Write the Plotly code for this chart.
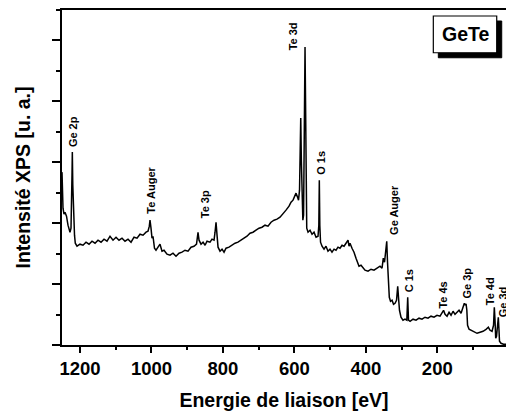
import plotly.graph_objects as go

# Binding energy (eV) and XPS intensity (arbitrary units)
energy = [
    1250.4, 1249.0, 1247.6, 1244.8, 1242.0, 1237.8, 1233.6, 1228.0, 1225.2, 1222.4,
    1221.5, 1220.2, 1218.8, 1217.4, 1215.4, 1213.2, 1208.4,
    1200.0, 1191.6, 1183.2, 1174.8, 1166.4, 1158.0, 1149.6, 1141.2, 1132.8, 1124.4,
    1116.0, 1107.6, 1099.2, 1090.8, 1082.4, 1074.0, 1065.6, 1057.2, 1048.8, 1040.4,
    1032.0, 1023.6, 1015.2, 1009.7, 1006.0, 1004.1, 1001.3, 998.5, 995.7, 991.5,
    987.3, 981.7, 976.1, 970.5, 964.9, 956.5, 948.1, 939.7, 931.3, 922.9,
    914.5, 906.1, 897.7, 889.3, 880.9, 873.9, 869.7, 866.9, 861.3, 855.6,
    850.0, 844.5, 836.1, 830.5, 824.9, 822.1, 819.3, 816.5, 813.7, 808.1,
    802.5, 796.9, 791.3, 782.9, 774.5, 766.1, 757.8, 749.4, 741.0, 732.6,
    724.2, 715.8, 707.4, 699.0, 690.6, 682.2, 673.8, 665.4, 657.0, 648.6,
    640.2, 631.8, 623.4, 615.0, 609.4, 603.8, 599.6, 595.4, 591.2, 588.4,
    585.6, 583.6, 582.2, 580.5, 578.5, 576.3, 574.3, 573.0, 571.6, 570.2,
    568.8, 567.4, 565.4, 561.8, 556.2, 550.6, 545.0, 539.4, 533.8, 531.6,
    530.2, 528.8, 526.8, 522.6, 517.0, 511.5, 505.9, 500.3, 494.7, 489.0,
    483.5, 477.9, 472.3, 466.6, 461.0, 455.5, 449.9, 447.1, 444.3, 438.7,
    433.1, 427.5, 423.3, 419.1, 413.5, 407.9, 402.3, 393.9, 385.5, 377.1,
    368.7, 360.3, 354.7, 351.1, 347.7, 344.3, 341.5, 339.3, 337.1, 334.3,
    330.9, 326.7, 322.5, 318.3, 314.1, 310.8, 308.0, 305.8, 301.6, 296.0,
    290.4, 285.3, 282.8, 280.6, 276.3, 267.9, 259.5, 251.1, 242.8, 234.4,
    226.0, 217.6, 209.2, 200.8, 192.4, 186.7, 182.5, 178.3, 172.7, 167.1,
    161.5, 155.9, 150.4, 144.8, 139.2, 133.5, 129.3, 126.5, 124.3, 121.5,
    119.5, 117.3, 115.3, 111.1, 105.5, 97.1, 88.7, 80.4, 72.0, 63.6,
    57.1, 52.4, 46.8, 42.6, 40.4, 38.4, 36.5, 34.2, 31.4, 29.2,
    27.3, 25.9, 21.7, 14.6, 7.7,
]
intensity = [
    2.838, 2.542, 2.246, 2.148, 2.180, 2.115, 1.967, 1.852, 1.918, 2.789,
    3.167, 2.625, 2.296, 2.378, 1.803, 1.671, 1.622,
    1.655, 1.638, 1.688, 1.655, 1.704, 1.671, 1.721, 1.688, 1.737, 1.704,
    1.786, 1.721, 1.770, 1.721, 1.754, 1.704, 1.737, 1.688, 1.770, 1.754,
    1.819, 1.803, 1.852, 1.868, 1.951, 2.050, 1.918, 1.754, 1.786, 1.589,
    1.556, 1.606, 1.655, 1.540, 1.556, 1.491, 1.474, 1.507, 1.458, 1.507,
    1.524, 1.556, 1.540, 1.606, 1.622, 1.655, 1.849, 1.721, 1.655, 1.688,
    1.638, 1.704, 1.688, 1.737, 1.721, 1.852, 2.016, 1.803, 1.606, 1.540,
    1.573, 1.524, 1.589, 1.606, 1.638, 1.671, 1.688, 1.721, 1.754, 1.786,
    1.835, 1.852, 1.885, 1.918, 1.934, 1.967, 1.951, 2.016, 2.049, 2.066,
    2.099, 2.148, 2.214, 2.279, 2.345, 2.378, 2.444, 2.493, 2.428, 2.378,
    2.542, 3.200, 3.726, 3.035, 2.296, 2.049, 2.131, 3.200, 4.350, 4.892,
    4.021, 2.542, 1.918, 1.852, 1.885, 1.819, 1.852, 1.770, 1.786, 1.967,
    2.706, 1.967, 1.688, 1.622, 1.573, 1.622, 1.540, 1.573, 1.524, 1.573,
    1.556, 1.606, 1.589, 1.638, 1.622, 1.671, 1.721, 1.622, 1.671, 1.589,
    1.524, 1.425, 1.359, 1.294, 1.310, 1.261, 1.228, 1.211, 1.244, 1.228,
    1.261, 1.294, 1.261, 1.425, 1.359, 1.556, 1.703, 1.359, 1.030, 0.784,
    0.718, 0.735, 0.669, 0.685, 0.735, 0.965, 0.735, 0.570, 0.456, 0.407,
    0.424, 0.407, 0.784, 0.407, 0.390, 0.424, 0.407, 0.440, 0.424, 0.456,
    0.440, 0.473, 0.456, 0.488, 0.473, 0.521, 0.570, 0.504, 0.473, 0.537,
    0.488, 0.554, 0.504, 0.537, 0.570, 0.521, 0.587, 0.636, 0.685, 0.652,
    0.677, 0.570, 0.324, 0.258, 0.242, 0.209, 0.192, 0.209, 0.225, 0.258,
    0.291, 0.242, 0.225, 0.324, 0.620, 0.407, 0.110, 0.143, 0.324, 0.456,
    0.242, 0.061, 0.028, 0.012, 0.012,
]

# Peak labels (text, anchor energy, anchor intensity)
peak_labels = ["Ge 2p", "Te Auger", "Te 3p", "Te 3d", "O 1s", "Ge Auger",
               "C 1s", "Te 4s", "Ge 3p", "Te 4d", "Ge 3d"]
peak_energy = [1219.6, 1000.0, 850.1, 603.0, 526.3, 319.7,
               279.1, 183.1, 116.0, 52.4, 17.4]
peak_intensity = [3.495, 2.542, 2.311, 5.073, 2.986, 2.210,
                  1.047, 0.817, 1.014, 0.883, 0.710]

x_ticks = [1200, 1000, 800, 600, 400, 200, 0]
sample_name = "GeTe"

FONT = "Arial, Liberation Sans, sans-serif"

fig = go.Figure()
fig.add_trace(go.Scatter(
    x=energy, y=intensity, mode="lines",
    line=dict(color="black", width=1.5), showlegend=False,
))

for txt, ex, iy in zip(peak_labels, peak_energy, peak_intensity):
    fig.add_annotation(
        x=ex, y=iy, xref="x", yref="y", text=txt, showarrow=False,
        textangle=-90, font=dict(family=FONT, size=11, color="black", weight="bold"),
    )

# GeTe box with shadow
sx, sy = 0.01126, 0.01494
bx0, bx1, by0, by1 = 0.8363, 0.9791, 0.8724, 0.9821
fig.add_shape(type="rect", xref="paper", yref="paper",
              x0=bx0 + sx, x1=bx1 + sx, y0=by0 - sy, y1=by1 - sy,
              fillcolor="black", line=dict(color="black", width=1))
fig.add_shape(type="rect", xref="paper", yref="paper",
              x0=bx0, x1=bx1, y0=by0, y1=by1,
              fillcolor="white", line=dict(color="black", width=1.2))
fig.add_annotation(x=(bx0 + bx1) / 2, y=(by0 + by1) / 2, xref="paper", yref="paper",
                   xanchor="center", yanchor="middle",
                   text=sample_name, showarrow=False,
                   font=dict(family=FONT, size=19.5, color="black", weight="bold"))

fig.update_layout(
    width=506, height=412,
    margin=dict(l=62, r=0, t=10, b=67),
    paper_bgcolor="white", plot_bgcolor="white",
    font=dict(family=FONT, color="black"),
    xaxis=dict(
        range=[1250.4, 7.7], autorange=False,
        tickvals=x_ticks, ticktext=[str(v) for v in x_ticks],
        ticks="outside", ticklen=6, tickwidth=1.5, tickcolor="black",
        minor=dict(dtick=100, ticks="outside", ticklen=3, tickwidth=1.5, tickcolor="black"),
        showline=True, linecolor="black", linewidth=2, mirror=True,
        showgrid=False, zeroline=False,
        tickfont=dict(family=FONT, size=18.5, color="black", weight="bold"),
        title=dict(text="Energie de liaison [eV]", standoff=15,
                   font=dict(family=FONT, size=19.5, color="black", weight="bold")),
    ),
    yaxis=dict(
        range=[0, 5.5], autorange=False,
        dtick=1, tick0=0, showticklabels=False,
        ticks="outside", ticklen=8, tickwidth=1.5, tickcolor="black",
        minor=dict(dtick=0.5, ticks="outside", ticklen=4, tickwidth=1.5, tickcolor="black"),
        showline=True, linecolor="black", linewidth=2, mirror=False,
        showgrid=False, zeroline=False,
        title=dict(text="Intensité XPS [u. a.]", standoff=16,
                   font=dict(family=FONT, size=19.5, color="black", weight="bold")),
    ),
)

fig.write_html(
    "out.html",
    config={"displayModeBar": False},
    post_script="document.body.style.margin='0';document.body.style.overflow='hidden';",
)
